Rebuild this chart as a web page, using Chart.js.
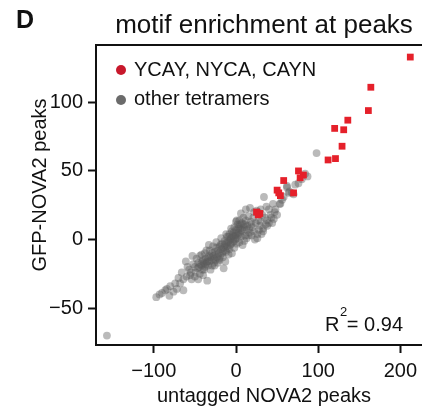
<!DOCTYPE html>
<html>
<head>
<meta charset="utf-8">
<script src="https://cdn.jsdelivr.net/npm/chart.js@4/dist/chart.umd.min.js"></script>
<style>
  html, body { margin: 0; padding: 0; background: #fff; }
  #wrap { width: 422px; height: 408px; overflow: hidden; position: relative; }
  canvas { display: block; }
</style>
</head>
<body>
<div id="wrap"><canvas id="motifChart" width="440" height="408"></canvas></div>
<script>
/* ===============================
   DATA (untagged NOVA2 x, GFP-NOVA2 y)
================================= */

const seriesNames = ["YCAY, NYCA, CAYN", "other tetramers"];
const xTitle = "untagged NOVA2 peaks";
const yTitle = "GFP-NOVA2 peaks";

const ycayPoints = [
  [212, 133], [164, 111], [161, 94], [136, 87], [120, 81], [131, 80],
  [129, 68], [112, 58], [121, 59], [76, 50], [82, 47], [78, 45],
  [58, 43], [70, 34], [50, 36], [54, 32], [52, 34], [25, 20], [29, 19], [27, 18]
];

const otherPoints = [
  [-157, -70], [-97, -42], [-93, -40], [-90, -39], [-81, -41], [-80, -34],
  [-74, -32], [-64, -37], [-64, -29], [-60, -27], [-61, -16], [-59, -20],
  [-54, -29], [-55, -24], [-49, -24], [-44, -25], [-35, -30], [-46, -17],
  [-40, -15], [-50, -20], [-52, -18], [-57, -22], [-47, -21], [-42, -19],
  [-38, -20], [-36, -17], [-33, -12], [-32, -8], [-28, -12], [-22, -17],
  [-15, -21], [-13, -16], [-17, -10], [-11, -5], [-7, 0], [-3, 2],
  [-5, -10], [1, -3], [5, 4], [3, 9], [0, 13], [9, 11], [13, 7], [17, 5],
  [23, 0], [19, 11], [17, 23], [29, 10], [33, 8], [35, 16], [43, 16],
  [47, 20], [34, 31], [53, 26], [56, 29], [64, 34], [62, 39], [98, 63],
  [62, 38], [76, 41], [87, 46], [68, 34], [54, 26],
  [-45, -20], [-43, -18], [-41, -22], [-39, -17], [-37, -14], [-35, -16],
  [-34, -19], [-31, -13], [-30, -15], [-29, -10], [-27, -14], [-26, -9],
  [-25, -11], [-24, -6], [-23, -13], [-22, -8], [-21, -10], [-20, -5],
  [-19, -12], [-18, -7], [-17, -3], [-16, -9], [-15, -6], [-14, -1],
  [-13, -8], [-12, -3], [-11, 2], [-10, -6], [-9, -1], [-8, 4], [-7, -4],
  [-6, 1], [-5, 6], [-4, -2], [-3, 5], [-2, 9], [-1, 3], [0, 7], [1, 1],
  [2, 11], [3, 5], [4, 14], [5, 8], [6, 2], [7, 12], [8, 6], [9, 16],
  [10, 9], [11, 3], [12, 14], [14, 10], [15, 17], [16, 8], [18, 13],
  [20, 9], [21, 16], [22, 6], [24, 12], [26, 4], [27, 14], [28, 7],
  [30, 13], [31, 4], [32, 18], [36, 11], [38, 14], [40, 12], [42, 18],
  [44, 12], [46, 15], [48, 22], [50, 18], [-28, -5], [-33, -4], [-38, -10],
  [-44, -12], [-48, -14], [-53, -12], [-56, -26], [-50, -27], [-46, -29],
  [-40, -26], [-31, -22], [-26, -19], [-20, -15], [-9, -11], [-2, -6],
  [4, -2], [10, -1], [15, 3], [-66, -24], [-68, -32], [-70, -28],
  [-72, -36], [-76, -38], [-84, -36], [-86, -37], [25, 21], [27, 20],
  [30, 22], [22, 20], [37, 24], [40, 22], [45, 26], [58, 31], [65, 35],
  [70, 33], [72, 40], [80, 44], [84, 48], [-24, -2], [-18, 1], [-12, 4],
  [-6, 8], [1, 14], [6, 19], [12, 22], [-36, -8], [-42, -11], [8, -4],
  [13, 1], [19, 3], [26, 1], [33, 6], [38, 10],
  [-14, -4], [-10, -2], [-6, -3], [-3, -1], [-1, 0], [2, 3], [-8, -7],
  [-12, -9], [-16, -13], [-21, -14], [-27, -17], [-32, -16], [-37, -18],
  [-41, -16], [-19, -4], [-4, 3], [3, 8], [7, 7], [11, 11], [-9, 2],
  [-25, -15], [-29, -19], [-34, -13], [-39, -22], [0, 4], [5, 11]
];

const xTicks = [-100, 0, 100, 200];
const yTicks = [-50, 0, 50, 100];
const xRange = [-170.3, 238.4];
const yRange = [-76.9, 141.8];
const rSquared = "0.94";

/* ===============================
   STYLE
================================= */

const FONT = "'Liberation Sans', Arial, Helvetica, sans-serif";
const RED = "#e5202a";
const GREY = "rgba(90, 90, 90, 0.42)";
const INK = "#111";

const toXY = p => ({ x: p[0], y: p[1] });
const minus = v => String(v).replace("-", "\u2212");

/* ===============================
   DECORATIONS (frame, titles, legend, R2)
================================= */

const decorations = {
  id: "decorations",
  afterDraw(chart) {
    const { ctx, chartArea } = chart;
    ctx.save();

    // full box round the plot
    ctx.strokeStyle = INK;
    ctx.lineWidth = 2;
    ctx.strokeRect(chartArea.left, chartArea.top,
      chartArea.right - chartArea.left, chartArea.bottom - chartArea.top);

    ctx.fillStyle = INK;
    ctx.textBaseline = "alphabetic";

    // panel letter
    ctx.font = "bold 25px " + FONT;
    ctx.textAlign = "left";
    ctx.fillText("D", 16, 28);

    // title
    ctx.font = "26px " + FONT;
    ctx.textAlign = "center";
    ctx.fillText("motif enrichment at peaks", 264, 33);

    // y axis title
    ctx.save();
    ctx.translate(40, 185);
    ctx.rotate(-Math.PI / 2);
    ctx.font = "20px " + FONT;
    ctx.textBaseline = "middle";
    ctx.fillText(yTitle, 0, 0);
    ctx.restore();

    // legend
    ctx.font = "20px " + FONT;
    ctx.textAlign = "left";
    ctx.textBaseline = "middle";
    ctx.fillStyle = "#c8182c";
    ctx.beginPath(); ctx.arc(121, 70, 5, 0, Math.PI * 2); ctx.fill();
    ctx.fillStyle = "#6b6b6b";
    ctx.beginPath(); ctx.arc(121, 100, 5, 0, Math.PI * 2); ctx.fill();
    ctx.fillStyle = INK;
    ctx.fillText(seriesNames[0], 134, 70);
    ctx.fillText(seriesNames[1], 134, 99);

    // R squared
    ctx.textBaseline = "alphabetic";
    ctx.font = "20px " + FONT;
    ctx.fillText("R", 325, 331);
    ctx.font = "13px " + FONT;
    ctx.fillText("2", 340, 316);
    ctx.font = "20px " + FONT;
    ctx.textAlign = "right";
    ctx.fillText("= " + rSquared, 403, 331);

    ctx.restore();
  }
};

/* ===============================
   CHART
================================= */

new Chart(document.getElementById("motifChart"), {
  type: "scatter",
  data: {
    datasets: [
      {
        label: seriesNames[0],
        data: ycayPoints.map(toXY),
        pointStyle: "rect",
        pointRadius: 4.8,
        backgroundColor: RED,
        borderWidth: 0
      },
      {
        label: seriesNames[1],
        data: otherPoints.map(toXY),
        pointStyle: "circle",
        pointRadius: 3.9,
        backgroundColor: GREY,
        borderWidth: 0
      }
    ]
  },
  options: {
    responsive: false,
    animation: false,
    events: [],
    layout: { padding: { left: 0, top: 45, right: 8, bottom: 0 } },
    plugins: {
      legend: { display: false },
      tooltip: { enabled: false }
    },
    scales: {
      x: {
        type: "linear",
        min: xRange[0],
        max: xRange[1],
        afterBuildTicks: s => { s.ticks = xTicks.map(v => ({ value: v })); },
        afterFit: s => { s.height = 63; },
        grid: { drawOnChartArea: false, drawTicks: true, tickLength: 8, tickWidth: 2, tickColor: INK },
        border: { display: true, color: INK, width: 2 },
        ticks: { color: INK, padding: 6, maxRotation: 0, font: { family: FONT, size: 20 }, callback: v => minus(v) },
        title: { display: true, text: xTitle, color: INK, padding: { top: 0, bottom: 0 }, font: { family: FONT, size: 20 } }
      },
      y: {
        type: "linear",
        min: yRange[0],
        max: yRange[1],
        afterBuildTicks: s => { s.ticks = yTicks.map(v => ({ value: v })); },
        afterFit: s => { s.width = 96; },
        grid: { drawOnChartArea: false, drawTicks: true, tickLength: 8, tickWidth: 2, tickColor: INK },
        border: { display: true, color: INK, width: 2 },
        ticks: { color: INK, padding: 5, font: { family: FONT, size: 20 }, callback: v => minus(v) },
        title: { display: false }
      }
    }
  },
  plugins: [decorations]
});
</script>
</body>
</html>
